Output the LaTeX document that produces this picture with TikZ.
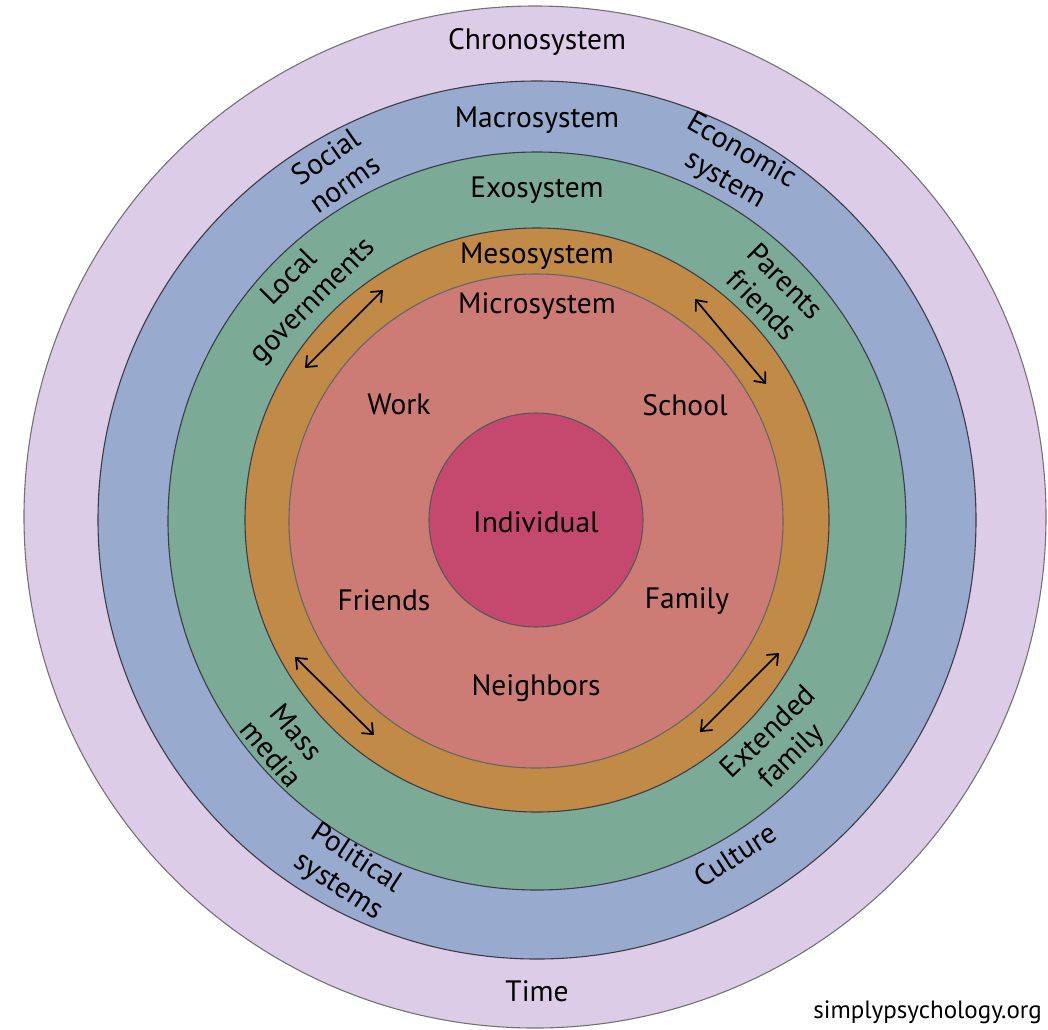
\documentclass[tikz,border=0pt]{standalone}
\usepackage{fontspec}
\setmainfont{PT Sans}
\usetikzlibrary{arrows.meta}
\definecolor{chrono}{RGB}{220,204,232}
\definecolor{macro}{RGB}{152,170,205}
\definecolor{exo}{RGB}{123,170,150}
\definecolor{meso}{RGB}{193,138,70}
\definecolor{micro}{RGB}{204,124,117}
\definecolor{indiv}{RGB}{197,72,110}
\definecolor{edge}{RGB}{60,60,70}
\begin{document}
\begin{tikzpicture}[x=1pt,y=-1pt,
  ring/.style={circle, draw=edge, line width=1.1pt, inner sep=0pt},
  lbl/.style={font=\fontsize{29.5}{33}\selectfont, align=center, text=black, inner sep=0pt},
  link/.style={<->, line width=1.7pt, >={Straight Barb[length=9pt,width=15pt,line width=1.7pt]}}]
\useasboundingbox (0,0) rectangle (1048,1029);
% rings
\node[ring, fill=chrono, draw=black!55, minimum size=1022pt] (chrono) at (535,517) {};
\node[ring, fill=macro, minimum size=878pt] (macro) at (537,520) {};
\node[ring, fill=exo, minimum size=738pt] (exo) at (537,521) {};
\node[ring, fill=meso, minimum size=584pt] (meso) at (537,520) {};
\node[ring, fill=micro, draw=black!60, minimum size=494pt] (micro) at (536,521) {};
\node[ring, fill=indiv, draw=black!65, minimum size=214pt] (indiv) at (536,520) {};
% system titles
\node[lbl] (tchrono) at (537,42) {Chronosystem};
\node[lbl] (tmacro) at (537,120) {Macrosystem};
\node[lbl] (texo) at (537,190) {Exosystem};
\node[lbl] (tmeso) at (537,256) {Mesosystem};
\node[lbl] (tmicro) at (537,306) {Microsystem};
\node[lbl] (tind) at (536,522) {Individual};
\node[lbl] (time) at (537,991) {Time};
% microsystem items
\node[lbl] (work) at (399,404) {Work};
\node[lbl] (school) at (685,405) {School};
\node[lbl] (friends) at (384,600) {Friends};
\node[lbl] (family) at (687,601) {Family};
\node[lbl] (neigh) at (536,688) {Neighbors};
% macro labels
\node[lbl, rotate=35] (social) at (335,170) {Social\\norms};
\node[lbl, rotate=-30] (econ) at (733,166) {Economic\\system};
\node[lbl, rotate=-33] (polit) at (347,873) {Political\\systems};
\node[lbl, rotate=33] (culture) at (735,855) {Culture};
% exo labels
\node[lbl, rotate=45] (localg) at (302,290) {Local\\governments};
\node[lbl, rotate=-45] (parents) at (774,293) {Parents\\friends};
\node[lbl, rotate=-50] (mass) at (284,743) {Mass\\media};
\node[lbl, rotate=44] (extfam) at (781,745) {Extended\\family};
% watermark
\node[lbl, font=\fontsize{25}{28}\selectfont, anchor=east] (site) at (1042,1012) {simplypsychology.org};
% meso arrows
\coordinate (a1) at (305,368); \coordinate (a2) at (383,290);
\coordinate (b1) at (695,299); \coordinate (b2) at (766,384);
\coordinate (c1) at (295,657); \coordinate (c2) at (374,735);
\coordinate (d1) at (700,732); \coordinate (d2) at (779,653);
\draw[link] (a1) -- (a2);
\draw[link] (b1) -- (b2);
\draw[link] (c1) -- (c2);
\draw[link] (d1) -- (d2);
\end{tikzpicture}
\end{document}
